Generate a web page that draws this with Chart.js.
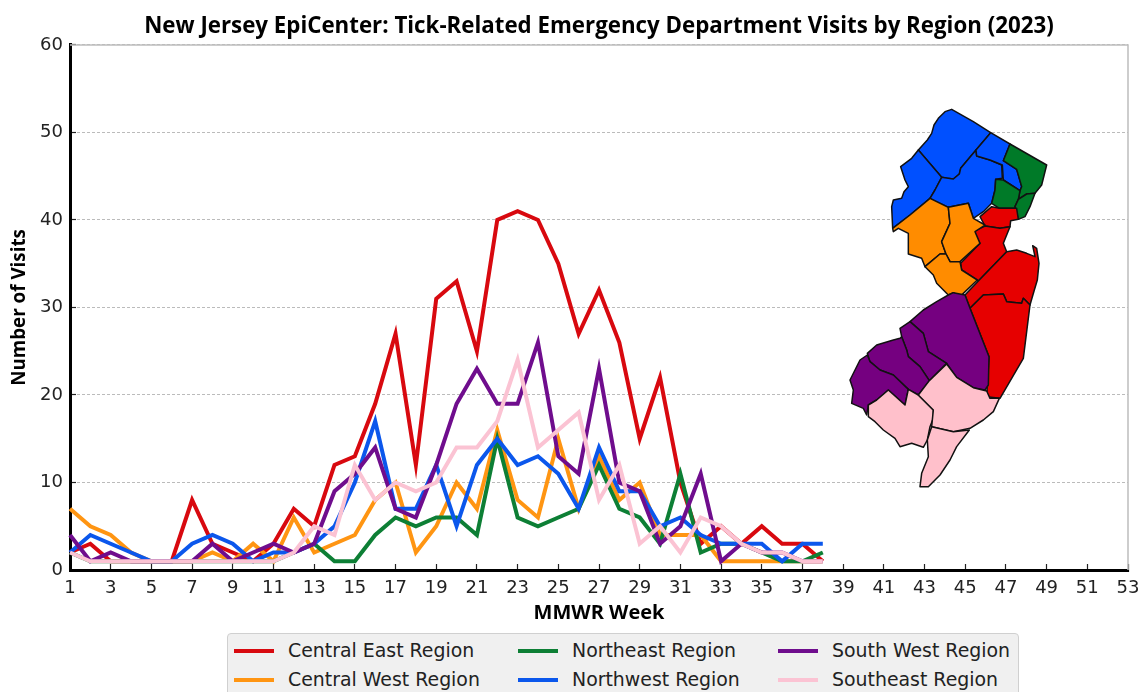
<!DOCTYPE html>
<html>
<head>
<meta charset="utf-8">
<title>New Jersey EpiCenter</title>
<script src="https://cdn.jsdelivr.net/npm/chart.js@4"></script>
<style>
    html, body { margin: 0; padding: 0; background: #fff; overflow: hidden; }
    #wrap { position: relative; width: 1144px; height: 692px; overflow: hidden; }
    #legendBox {
        position: absolute; left: 227px; top: 633px; width: 790px; height: 70px;
        background: #f0f0f0; border: 1px solid #d0d0d0; border-radius: 4px;
        font: 18.9px "DejaVu Sans", sans-serif; color: #222;
    }
    .legendItem { position: absolute; white-space: nowrap; line-height: 22px; }
    .legendSwatch { position: absolute; left: 0; top: 10px; width: 40px; height: 4px; }
    .legendLabel { position: absolute; left: 54px; top: 0; }
</style>
</head>
<body>
<div id="wrap">
    <canvas id="epiChart" width="1144" height="692"></canvas>
    <div id="legendBox"></div>
</div>
<script>
const weeks = [1,2,3,4,5,6,7,8,9,10,11,12,13,14,15,16,17,18,19,20,21,22,23,24,25,26,27,28,29,30,31,32,33,34,35,36,37,38];

const centralEast = [2,3,1,1,1,1,8,3,2,1,3,7,5,12,13,19,27,12,31,33,25,40,41,40,35,27,32,26,15,22,10,3,5,3,5,3,3,1];
const centralWest = [7,5,4,2,1,1,1,2,1,3,1,6,2,3,4,8,10,2,5,10,7,16,8,6,15,7,13,8,10,4,4,4,1,1,1,1,1,1];
const northeast = [2,1,1,1,1,1,1,1,1,1,1,2,3,1,1,4,6,5,6,6,4,15,6,5,6,7,12,7,6,3,11,2,3,3,2,1,1,2];
const northwest = [2,4,3,2,1,1,3,4,3,1,2,2,3,5,10,17,7,7,12,5,12,15,12,13,11,7,14,9,9,5,6,4,3,3,3,1,3,3];
const southWest = [4,1,2,1,1,1,1,3,1,2,3,2,3,9,11,14,7,6,12,19,23,19,19,26,13,11,23,10,9,3,5,11,1,3,2,2,1,1];
const southeast = [2,1,1,1,1,1,1,1,1,1,1,2,5,4,12,8,10,9,10,14,14,17,24,14,16,18,8,12,3,5,2,6,5,3,2,2,1,1];

const seriesNames = ['Central East Region', 'Central West Region', 'Northeast Region', 'Northwest Region', 'South West Region', 'Southeast Region'];
const seriesValues = [centralEast, centralWest, northeast, northwest, southWest, southeast];
const seriesColors = ['#d8090f', '#ff9512', '#0d7f35', '#0b57ec', '#6f0d8d', '#fbc3d3'];

const RED = '#e60000', ORANGE = '#ff8c00', GREEN = '#007a28', BLUE = '#0050ff', PURPLE = '#750080', PINK = '#ffc0cb';
const mapNorthY = 100, mapSouthY = 290, mapX = 840;
const northCounties = [
    [BLUE, [335,28,315,35,295,55,282,75,275,100,262,120,235,150,305,232,320,235,340,237,358,222,362,205,408,150,452,98,400,65]],
    [BLUE, [235,150,215,175,182,200,195,240,205,260,192,275,185,295,160,300,155,320,158,385,210,345,270,295,285,270,305,232]],
    [BLUE, [408,150,362,205,358,222,340,237,305,232,285,270,270,295,325,322,385,310,400,355,430,335,455,310,465,270,467,238,487,235,485,195,450,180,410,168]],
    [BLUE, [452,98,510,132,490,182,530,208,545,260,540,272,490,240,487,195,450,180,410,168,408,150]],
    [GREEN, [510,132,620,195,605,255,585,280,560,282,535,298,540,272,545,260,530,208,490,182]],
    [GREEN, [467,238,490,240,540,272,535,298,525,320,530,325,478,325,455,310,465,270]],
    [GREEN, [535,298,560,282,585,280,570,320,555,350,535,358,525,320]],
    [RED, [455,320,478,325,530,325,535,358,512,362,510,380,480,385,435,378,420,350]],
    [RED, [435,378,400,395,420,430,362,490,365,510,415,543,500,455,490,430,510,380,480,385]],
    [RED, [415,543,500,455,530,450,560,460,585,470,578,437,590,445,597,490,592,540,583,570,570,615,550,595,545,610,500,605,490,582,430,585,390,625,375,585]],
    [ORANGE, [158,385,210,345,270,295,325,322,330,370,305,425,318,462,300,462,255,500,245,475,205,462,205,400,175,385,160,395]],
    [ORANGE, [325,322,385,310,400,355,435,375,405,395,420,430,360,485,330,485,318,462,305,425,330,370]],
    [ORANGE, [255,500,300,462,318,462,330,485,360,485,365,510,412,540,370,580,360,590,340,578,325,585,290,550,280,525]]
];
const southCounties = [
    [RED, [390,55,430,15,490,12,500,35,545,40,550,25,570,45,550,205,480,325,440,320,447,200]],
    [PURPLE, [340,8,325,15,290,35,250,60,210,95,250,130,265,185,320,220,350,262,400,293,435,300,445,285,447,200,390,55,375,15]],
    [PURPLE, [210,95,180,115,185,140,200,180,205,200,240,230,268,272,320,220,265,185,250,130]],
    [PURPLE, [180,145,160,150,110,165,82,190,90,215,120,240,160,255,205,298,235,315,268,272,240,230,205,200,200,180,185,140]],
    [PURPLE, [82,195,60,210,45,240,30,270,40,300,35,340,70,355,80,375,85,345,110,330,145,300,195,345,205,298,160,255,120,240,90,215]],
    [PINK, [85,345,110,330,145,300,195,345,205,298,235,315,280,360,280,385,270,410,262,450,250,472,215,460,180,470,165,445,130,420,105,395,85,380]],
    [PINK, [235,315,268,272,320,222,350,262,400,293,440,303,450,325,478,325,460,365,430,390,390,415,340,425,275,410,280,360]],
    [PINK, [275,410,340,425,388,420,350,470,330,510,300,555,265,590,240,590,245,550,265,500,262,450]]
];

function drawCounty(ctx, fill, pts, originY) {
    ctx.beginPath();
    for (let i = 0; i < pts.length; i += 2) {
        const px = mapX + pts[i] / 3;
        const py = originY + pts[i + 1] / 3;
        if (i === 0) ctx.moveTo(px, py); else ctx.lineTo(px, py);
    }
    ctx.closePath();
    ctx.fillStyle = fill;
    ctx.fill();
    ctx.lineWidth = 1.5;
    ctx.strokeStyle = '#111';
    ctx.lineJoin = 'round';
    ctx.stroke();
}

const framePlugin = {
    id: 'frame',
    beforeDatasetsDraw(chart) {
        // light top and right spines
        const { ctx, chartArea: a } = chart;
        ctx.save();
        ctx.strokeStyle = '#bdbdbd';
        ctx.lineWidth = 1.5;
        ctx.beginPath();
        ctx.moveTo(a.left, a.top);
        ctx.lineTo(a.right, a.top);
        ctx.lineTo(a.right, a.bottom);
        ctx.stroke();
        ctx.restore();
    }
};

const mapPlugin = {
    id: 'njMap',
    afterDraw(chart) {
        const ctx = chart.ctx;
        ctx.save();
        northCounties.forEach(c => drawCounty(ctx, c[0], c[1], mapNorthY));
        southCounties.forEach(c => drawCounty(ctx, c[0], c[1], mapSouthY));
        ctx.restore();
    }
};

const ctx = document.getElementById('epiChart').getContext('2d');
new Chart(ctx, {
    type: 'line',
    data: {
        datasets: seriesNames.map((name, i) => ({
            label: name,
            data: weeks.map((w, j) => ({ x: w, y: seriesValues[i][j] })),
            borderColor: seriesColors[i],
            backgroundColor: seriesColors[i],
            borderWidth: 4,
            pointRadius: 0,
            tension: 0,
            clip: false,
            order: seriesNames.length - i // later series sit on top
        }))
    },
    options: {
        responsive: false,
        animation: false,
        layout: { padding: { left: 0, right: 16, top: 0, bottom: 0 } },
        plugins: {
            legend: { display: false },
            tooltip: { enabled: false },
            title: {
                display: true,
                fullSize: false,
                text: 'New Jersey EpiCenter: Tick-Related Emergency Department Visits by Region (2023)',
                color: '#000',
                font: { family: '"Open Sans"', size: 22.3, weight: 'bold', lineHeight: 1.2 },
                padding: { top: 13, bottom: 5.2 }
            }
        },
        scales: {
            x: {
                type: 'linear',
                min: 1,
                max: 53,
                afterFit(scale) { scale.height = 122; scale.paddingLeft = 0; scale.paddingRight = 0; },
                border: { color: '#000', width: 3 },
                grid: { drawOnChartArea: false, drawTicks: true, tickLength: -6, tickColor: '#222', tickWidth: 1.2 },
                ticks: { stepSize: 2, autoSkip: false, maxRotation: 0, padding: 14, color: '#222', font: { family: '"DejaVu Sans"', size: 18 } },
                title: { display: true, text: 'MMWR Week', color: '#000', padding: { top: 4, bottom: 67 }, font: { family: '"Open Sans"', size: 20, weight: 'bold' } }
            },
            y: {
                min: 0,
                max: 60,
                afterFit(scale) { scale.width = 70; },
                border: { color: '#000', width: 3, dash: [3, 2] },
                grid: { color: '#bbbbbb', lineWidth: 1, drawTicks: true, tickLength: -6, tickColor: '#222', tickWidth: 1.2 },
                ticks: { stepSize: 10, padding: 13, color: '#222', font: { family: '"DejaVu Sans"', size: 18 } },
                title: { display: true, text: 'Number of Visits', color: '#000', padding: { top: 8, bottom: 0 }, font: { family: '"Open Sans"', size: 18.8, weight: 'bold' } }
            }
        }
    },
    plugins: [framePlugin, mapPlugin]
});

// legend fills column by column, two rows high
const legendBox = document.getElementById('legendBox');
const legendCols = [6, 290, 550];
const legendRows = [5, 34];
seriesNames.forEach((name, i) => {
    const item = document.createElement('div');
    item.className = 'legendItem';
    item.style.left = legendCols[Math.floor(i / 2)] + 'px';
    item.style.top = legendRows[i % 2] + 'px';
    const swatch = document.createElement('div');
    swatch.className = 'legendSwatch';
    swatch.style.background = seriesColors[i];
    const label = document.createElement('div');
    label.className = 'legendLabel';
    label.textContent = name;
    item.appendChild(swatch);
    item.appendChild(label);
    legendBox.appendChild(item);
});
</script>
</body>
</html>
